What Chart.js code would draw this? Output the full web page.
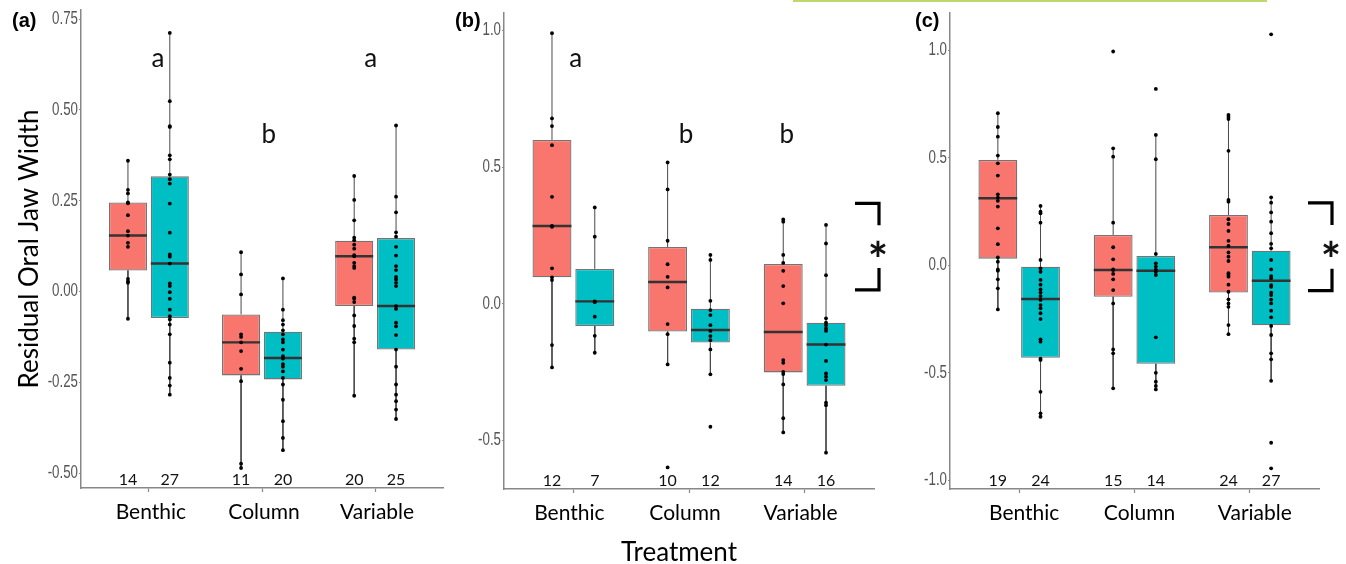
<!DOCTYPE html>
<html>
<head>
<meta charset="utf-8">
<script src="https://cdn.jsdelivr.net/npm/chart.js@4.4.0/dist/chart.umd.min.js"></script>
<style>
  body { margin: 0; background: #fff; width: 1346px; height: 564px; position: relative; overflow: hidden; font-family: Lato, sans-serif; }
  canvas { position: absolute; top: 0; }
  .tag { position: absolute; top: 10px; font: bold 20px "Liberation Sans", Arial, sans-serif; line-height: 20px; color: #000; }
  #xtitle { position: absolute; left: 579px; width: 200px; top: 535px; text-align: center; font: 26px Lato, sans-serif; color: #000; }
  #topline { position: absolute; left: 793px; width: 474px; top: 0; height: 2px; background: #bcd86e; }
</style>
</head>
<body>
<div id="topline"></div>
<canvas id="chartA" width="460" height="564" style="left:0px"></canvas>
<canvas id="chartB" width="451" height="564" style="left:444px"></canvas>
<canvas id="chartC" width="451" height="564" style="left:895px"></canvas>
<div class="tag" style="left:12px">(a)</div>
<div class="tag" style="left:455px">(b)</div>
<div class="tag" style="left:915px">(c)</div>
<div id="xtitle">Treatment</div>

<script>
const categories = ['Benthic', 'Column', 'Variable']

// boxes per category: [lower whisker, q1, median, q3, upper whisker]
// panel (a)
const aRedBox = [[-0.075, 0.058, 0.154, 0.245, 0.358], [-0.486, -0.231, -0.14, -0.063, 0.108], [-0.287, -0.04, 0.097, 0.14, 0.318]]
const aTealBox = [[-0.284, -0.073, 0.077, 0.317, 0.712], [-0.437, -0.242, -0.183, -0.111, 0.036], [-0.351, -0.16, -0.04, 0.147, 0.457]]
const aRedPts = [
  [0.36, 0.28, 0.27, 0.245, 0.243, 0.21, 0.166, 0.154, 0.134, 0.123, 0.035, 0.028, 0.024, -0.075],
  [0.108, 0.047, -0.008, -0.118, -0.125, -0.14, -0.164, -0.213, -0.247, -0.474, -0.486],
  [0.318, 0.252, 0.196, 0.148, 0.141, 0.129, 0.118, 0.1, 0.097, 0.079, 0.07, 0.065, -0.017, -0.02, -0.029, -0.066, -0.095, -0.13, -0.14, -0.287]
]
const aTealPts = [
  [0.712, 0.524, 0.455, 0.453, 0.375, 0.364, 0.322, 0.309, 0.297, 0.242, 0.162, 0.102, 0.096, 0.077, 0.022, 0.015, -0.002, -0.02, -0.05, -0.068, -0.077, -0.091, -0.118, -0.196, -0.238, -0.259, -0.284],
  [0.036, -0.05, -0.079, -0.091, -0.107, -0.118, -0.132, -0.14, -0.16, -0.178, -0.185, -0.2, -0.207, -0.22, -0.238, -0.256, -0.298, -0.357, -0.403, -0.437],
  [0.457, 0.261, 0.218, 0.163, 0.151, 0.123, 0.099, 0.07, 0.059, 0.04, 0.033, 0.024, 0.015, -0.04, -0.048, -0.086, -0.096, -0.12, -0.16, -0.207, -0.256, -0.284, -0.302, -0.325, -0.351]
]
const aCounts = [[14, 11, 20], [27, 20, 25]]
const aTicks = [-0.5, -0.25, 0, 0.25, 0.5, 0.75]
const aTickLabels = ['-0.50', '-0.25', '0.00', '0.25', '0.50', '0.75']
const aLetters = ['a', 'b', 'a']

// panel (b)
const bRedBox = [[-0.234, 0.096, 0.284, 0.599, 0.99], [-0.223, -0.102, 0.079, 0.207, 0.517], [-0.472, -0.252, -0.104, 0.145, 0.308]]
const bTealBox = [[-0.18, -0.082, 0.008, 0.127, 0.352], [-0.259, -0.143, -0.097, -0.019, 0.178], [-0.546, -0.301, -0.15, -0.07, 0.288]]
const bRedPts = [
  [0.99, 0.678, 0.65, 0.58, 0.391, 0.284, 0.281, 0.129, 0.096, 0.086, -0.152, -0.234],
  [0.517, 0.418, 0.23, 0.144, 0.098, 0.059, -0.075, -0.112, -0.223, -0.6],
  [0.308, 0.3, 0.178, 0.149, 0.12, 0.064, 0.001, -0.207, -0.217, -0.25, -0.258, -0.296, -0.42, -0.472]
]
const bTealPts = [
  [0.352, 0.245, 0.008, 0.005, -0.048, -0.118, -0.18],
  [0.178, 0.16, 0.01, -0.024, -0.042, -0.079, -0.1, -0.119, -0.134, -0.168, -0.259, -0.451],
  [0.288, 0.22, 0.104, -0.054, -0.07, -0.079, -0.091, -0.1, -0.15, -0.21, -0.256, -0.268, -0.28, -0.363, -0.372, -0.546]
]
const bCounts = [[12, 10, 14], [7, 12, 16]]
const bTicks = [-0.5, 0, 0.5, 1]
const bTickLabels = ['-0.5', '0.0', '0.5', '1.0']
const bLetters = ['a', 'b', 'b']

// panel (c)
const cRedBox = [[-0.205, 0.031, 0.312, 0.49, 0.707], [-0.572, -0.146, -0.022, 0.141, 0.544], [-0.32, -0.127, 0.084, 0.234, 0.699]]
const cTealBox = [[-0.704, -0.43, -0.157, -0.007, 0.276], [-0.577, -0.458, -0.025, 0.043, 0.606], [-0.537, -0.279, -0.072, 0.068, 0.316]]
const cRedPts = [
  [0.707, 0.643, 0.598, 0.51, 0.474, 0.417, 0.33, 0.315, 0.3, 0.273, 0.172, 0.098, 0.037, 0.017, -0.019, -0.025, -0.065, -0.107, -0.205],
  [0.994, 0.544, 0.505, 0.198, 0.084, 0.028, -0.019, -0.022, -0.04, -0.065, -0.115, -0.177, -0.391, -0.409, -0.572],
  [0.699, 0.69, 0.68, 0.532, 0.304, 0.296, 0.214, 0.192, 0.16, 0.114, 0.09, 0.06, 0.04, 0.02, -0.037, -0.045, -0.053, -0.09, -0.123, -0.158, -0.177, -0.193, -0.278, -0.32]
]
const cTealPts = [
  [0.276, 0.249, 0.242, 0.198, 0.025, -0.014, -0.03, -0.068, -0.09, -0.112, -0.127, -0.143, -0.161, -0.185, -0.2, -0.223, -0.25, -0.344, -0.355, -0.434, -0.44, -0.588, -0.688, -0.704],
  [0.82, 0.606, 0.493, 0.053, 0.009, -0.006, -0.02, -0.03, -0.045, -0.335, -0.5, -0.541, -0.561, -0.577],
  [1.074, 0.316, 0.291, 0.246, 0.203, 0.149, 0.1, 0.079, 0.025, -0.019, -0.05, -0.06, -0.092, -0.1, -0.127, -0.138, -0.16, -0.177, -0.211, -0.242, -0.282, -0.324, -0.409, -0.437, -0.537, -0.825, -0.944]
]
const cCounts = [[19, 15, 24], [24, 14, 27]]
const cTicks = [-1, -0.5, 0, 0.5, 1]
const cTickLabels = ['-1.0', '-0.5', '0.0', '0.5', '1.0']

const RED = '#F8766D'
const TEAL = '#00BFC4'
const dodge = [-0.185, 0.185]
const halfBox = 0.168

function buildDatasets(redBox, tealBox, redPts, tealPts) {
  const datasets = []
  const groups = [[redBox, redPts, RED, dodge[0]], [tealBox, tealPts, TEAL, dodge[1]]]
  groups.forEach(([boxes, pts, color, dx]) => {
    const xs = categories.map((c, i) => i + 1 + dx)

    datasets.push({
      type: 'bar',
      data: boxes.map((b, i) => ({ x: xs[i], y: [b[1], b[3]] })),
      backgroundColor: color,
      borderColor: 'rgba(70,70,70,0.75)',
      borderWidth: 1.3,
      borderSkipped: false,
      grouped: false,
      categoryPercentage: 1,
      barPercentage: 0.91,
      order: 2
    })

    const whiskers = []
    boxes.forEach((b, i) => {
      whiskers.push({ x: xs[i], y: b[3] }, { x: xs[i], y: b[4] }, { x: xs[i], y: null })
      whiskers.push({ x: xs[i], y: b[1] }, { x: xs[i], y: b[0] }, { x: xs[i], y: null })
    })
    datasets.push({ type: 'line', data: whiskers, borderColor: '#4a4a4a', borderWidth: 1, pointRadius: 0, fill: false, order: 3 })

    const medians = []
    boxes.forEach((b, i) => {
      medians.push({ x: xs[i] - halfBox, y: b[2] }, { x: xs[i] + halfBox, y: b[2] }, { x: xs[i], y: null })
    })
    datasets.push({ type: 'line', data: medians, borderColor: '#333', borderWidth: 2.4, pointRadius: 0, fill: false, order: 1 })

    const dots = []
    pts.forEach((arr, i) => arr.forEach(v => dots.push({ x: xs[i], y: v })))
    datasets.push({ type: 'scatter', data: dots, pointRadius: 1.9, backgroundColor: '#000', borderWidth: 0, order: 0 })
  })
  return datasets
}

const notesPlugin = {
  id: 'notes',
  afterDraw(chart, args, opts) {
    const { ctx, chartArea, scales: { x, y } } = chart
    ctx.save()

    // y tick labels, squeezed like the narrow font of the original
    ctx.fillStyle = '#555'
    ctx.textAlign = 'right'
    ctx.textBaseline = 'middle'
    ctx.font = '18px "Liberation Sans", Arial, sans-serif'
    y.ticks.forEach((t, i) => {
      ctx.save()
      ctx.translate(chartArea.left - 3, y.getPixelForValue(t.value))
      ctx.scale(0.74, 1)
      ctx.fillText(opts.tickLabels[i], 0, 0)
      ctx.restore()
    })

    ctx.fillStyle = '#111'
    ctx.textAlign = 'center'
    ctx.textBaseline = 'alphabetic'

    // group sizes sitting on the x axis
    ctx.font = '16px Lato'
    opts.counts.forEach((row, g) => {
      row.forEach((n, i) => ctx.fillText(n, x.getPixelForValue(i + 1 + dodge[g]), chartArea.bottom - 3))
    })

    // significance letters
    ctx.font = '26px Lato'
    ;(opts.letters || []).forEach((t, i) => {
      ctx.fillText(t, x.getPixelForValue(opts.letterX[i]), y.getPixelForValue(opts.letterY[i]))
    })

    // bracket with asterisk
    const br = opts.bracket
    if (br) {
      const yT = y.getPixelForValue(br.top)
      const yB = y.getPixelForValue(br.bottom)
      const x0 = chartArea.right + br.left
      const x1 = chartArea.right + br.right
      ctx.strokeStyle = '#000'
      ctx.lineWidth = 3.2
      ctx.beginPath()
      ctx.moveTo(x0, yT); ctx.lineTo(x1, yT); ctx.lineTo(x1, yT + 22)
      ctx.moveTo(x1, yB - 22); ctx.lineTo(x1, yB); ctx.lineTo(x0, yB)
      ctx.stroke()
      ctx.font = 'bold 48px Lato'
      const m = ctx.measureText('*')
      const mid = (yT + yB) / 2 + 2
      ctx.fillText('*', x1 - 1, mid + (m.actualBoundingBoxAscent - m.actualBoundingBoxDescent) / 2)
    }
    ctx.restore()
  }
}

function makePanel(id, cfg) {
  const ctx = document.getElementById(id)
  return new Chart(ctx, {
    type: 'bar',
    data: { datasets: buildDatasets(cfg.redBox, cfg.tealBox, cfg.redPts, cfg.tealPts) },
    options: {
      responsive: false,
      animation: false,
      devicePixelRatio: 1,
      layout: { padding: { top: cfg.top, right: cfg.right, left: 0, bottom: 0 } },
      plugins: {
        legend: { display: false },
        tooltip: { enabled: false },
        notes: Object.assign({ tickLabels: cfg.tickLabels }, cfg.notes)
      },
      scales: {
        x: {
          type: 'linear',
          min: 0.4,
          max: 3.6,
          offset: false,
          afterBuildTicks: s => { s.ticks = categories.map((c, i) => ({ value: i + 1 })) },
          afterFit: s => { s.height = 564 - cfg.bottom },
          ticks: { callback: (v, i) => categories[i], color: '#000', font: { family: 'Lato', size: 21 }, padding: 8, maxRotation: 0, labelOffset: cfg.labelOffset },
          grid: { drawOnChartArea: false, offset: false, tickLength: 4, color: '#888', tickWidth: 1.2 },
          border: { display: true, color: '#888', width: 1.5 }
        },
        y: {
          min: cfg.yMin,
          max: cfg.yMax,
          afterBuildTicks: s => { s.ticks = cfg.ticks.map(v => ({ value: v })) },
          afterFit: s => { s.width = cfg.axisW },
          ticks: { display: false },
          grid: { drawOnChartArea: false, tickLength: 2, color: '#888' },
          border: { display: true, color: '#888', width: 1.5 },
          title: {
            display: !!cfg.yTitle,
            text: cfg.yTitle || '',
            color: '#000',
            font: { family: 'Lato', size: 26 },
            padding: { top: 14, bottom: 0 }
          }
        }
      }
    },
    plugins: [notesPlugin]
  })
}

makePanel('chartA', {
  redBox: aRedBox, tealBox: aTealBox, redPts: aRedPts, tealPts: aTealPts,
  yMin: -0.541, yMax: 0.775, ticks: aTicks, tickLabels: aTickLabels,
  axisW: 81, top: 10, right: 17, bottom: 488, labelOffset: 2,
  yTitle: 'Residual Oral Jaw Width',
  notes: { counts: aCounts, letters: aLetters, letterX: [1.08, 2.06, 2.96], letterY: [0.617, 0.41, 0.617] }
})

makePanel('chartB', {
  redBox: bRedBox, tealBox: bTealBox, redPts: bRedPts, tealPts: bTealPts,
  yMin: -0.679, yMax: 1.064, ticks: bTicks, tickLabels: bTickLabels,
  axisW: 60, top: 13, right: 21, bottom: 489, labelOffset: -4,
  notes: {
    counts: bCounts, letters: bLetters, letterX: [1.02, 1.974, 2.845], letterY: [0.867, 0.587, 0.587],
    bracket: { top: 0.367, bottom: 0.05, left: -19, right: 5 }
  }
})

makePanel('chartC', {
  redBox: cRedBox, tealBox: cTealBox, redPts: cRedPts, tealPts: cTealPts,
  yMin: -1.04, yMax: 1.173, ticks: cTicks, tickLabels: cTickLabels,
  axisW: 55, top: 13, right: 27, bottom: 489, labelOffset: 5,
  notes: {
    counts: cCounts,
    bracket: { top: 0.29, bottom: -0.118, left: -11, right: 13 }
  }
})
</script>
</body>
</html>
